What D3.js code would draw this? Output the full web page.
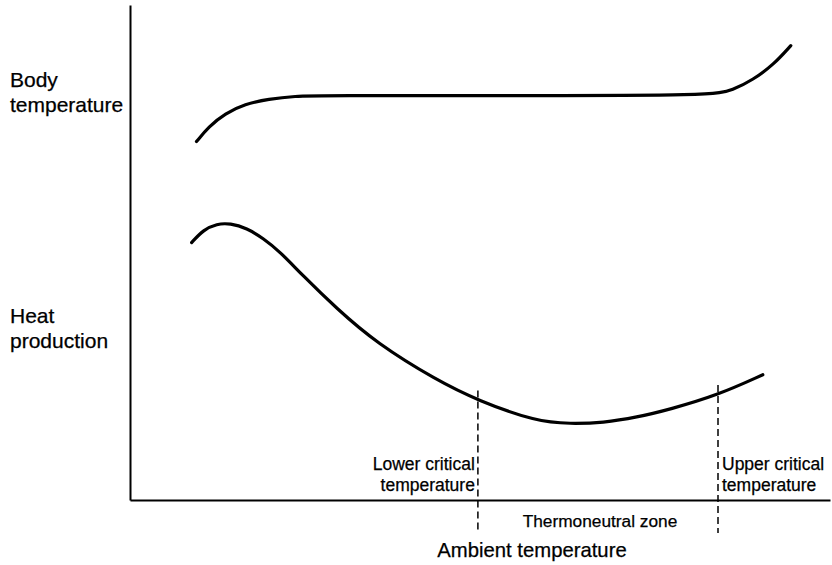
<!DOCTYPE html>
<html>
<head>
<meta charset="utf-8">
<script src="https://cdn.jsdelivr.net/npm/d3@7"></script>
<style>
  html, body { margin: 0; padding: 0; background: #fff; }
  svg { display: block; }
  text { font-family: "Liberation Sans", Arial, Helvetica, sans-serif; fill: #000; stroke: #000; stroke-width: 0.25px; }
</style>
</head>
<body>
<svg id="chart" width="832" height="565"></svg>
<script>
// Ambient temperature (relative units, 0–100) and response level (0–100)
const bodyTempX = [9.5, 11.2, 13.6, 16.4, 19.8, 23.6, 27.4, 55, 83.3, 86.1, 89.0, 91.9, 94.4];
const bodyTempY = [72.4, 75.4, 78.1, 80.0, 81.0, 81.6, 81.7, 81.7, 81.7, 82.8, 84.9, 87.9, 91.8];

const heatProdX = [8.8, 10.5, 12.4, 14.3, 16.7, 19.0, 21.4, 24.5, 29.5, 35.2, 43.8,
                   49.7, 58.1, 62.9, 67.6, 72.4, 77.1, 84.0, 90.4];
const heatProdY = [52.0, 54.6, 55.8, 55.9, 54.9, 52.9, 50.2, 45.6, 38.7, 31.7, 24.2,
                   20.1, 15.8, 15.4, 15.6, 16.7, 18.3, 21.2, 25.3];

// Critical temperatures bounding the thermoneutral zone
const criticalTemps = [49.7, 84.0];
const criticalLabels = [["Lower critical", "temperature"], ["Upper critical", "temperature"]];
const seriesLabels = [["Body", "temperature"], ["Heat", "production"]];
const xTitle = "Ambient temperature";
const zoneLabel = "Thermoneutral zone";

const svg = d3.select("#chart");
const x = d3.scaleLinear().domain([0, 100]).range([130, 830]);
const y = d3.scaleLinear().domain([0, 100]).range([500, 5]);

// Axes: plain lines, no ticks
svg.append("g")
  .attr("transform", `translate(0,${y(0)})`)
  .call(d3.axisBottom(x).tickValues([]).tickSizeOuter(0))
  .select(".domain").attr("stroke", "#000").attr("stroke-width", 2);
svg.append("g")
  .attr("transform", `translate(${x(0)},0)`)
  .call(d3.axisLeft(y).tickValues([]).tickSizeOuter(0))
  .select(".domain").attr("stroke", "#000").attr("stroke-width", 2);

// Smooth B-spline through the sampled responses
const line = d3.line()
  .x(d => x(d[0]))
  .y(d => y(d[1]))
  .curve(d3.curveBasis);

const bodyPts = d3.zip(bodyTempX, bodyTempY);
const heatPts = d3.zip(heatProdX, heatProdY);

[bodyPts, heatPts].forEach(pts => {
  svg.append("path")
    .attr("d", line(pts))
    .attr("fill", "none")
    .attr("stroke", "#000")
    .attr("stroke-width", 3.2)
    .attr("stroke-linecap", "round");
});

// Dashed markers at the critical temperatures
const heatAt = t => {
  const i = d3.bisectLeft(heatProdX, t);
  const i0 = Math.max(0, i - 1), i1 = Math.min(heatProdX.length - 1, i);
  if (i0 === i1) return heatProdY[i0];
  const f = (t - heatProdX[i0]) / (heatProdX[i1] - heatProdX[i0]);
  return heatProdY[i0] + f * (heatProdY[i1] - heatProdY[i0]);
};
criticalTemps.forEach(t => {
  svg.append("line")
    .attr("x1", x(t)).attr("x2", x(t))
    .attr("y1", y(heatAt(t)) - 10)
    .attr("y2", y(0) + 33)
    .attr("stroke", "#000")
    .attr("stroke-width", 1.5)
    .attr("stroke-dasharray", "7,4");
});

// Series labels on the left
const seriesY = [[87, 112], [323, 348]];
seriesLabels.forEach((lines, i) => {
  lines.forEach((s, j) => {
    svg.append("text")
      .attr("x", 10).attr("y", seriesY[i][j])
      .attr("font-size", 21)
      .text(s);
  });
});

// Critical temperature labels
criticalLabels.forEach((lines, i) => {
  const left = i === 0;
  lines.forEach((s, j) => {
    svg.append("text")
      .attr("x", x(criticalTemps[i]) + (left ? -3 : 4))
      .attr("y", [470, 491][j])
      .attr("text-anchor", left ? "end" : "start")
      .attr("font-size", 17.5)
      .text(s);
  });
});

svg.append("text")
  .attr("x", 600)
  .attr("y", 527)
  .attr("text-anchor", "middle")
  .attr("font-size", 17.3)
  .text(zoneLabel);

svg.append("text")
  .attr("x", 532)
  .attr("y", 557)
  .attr("text-anchor", "middle")
  .attr("font-size", 20.3)
  .text(xTitle);
</script>
</body>
</html>
